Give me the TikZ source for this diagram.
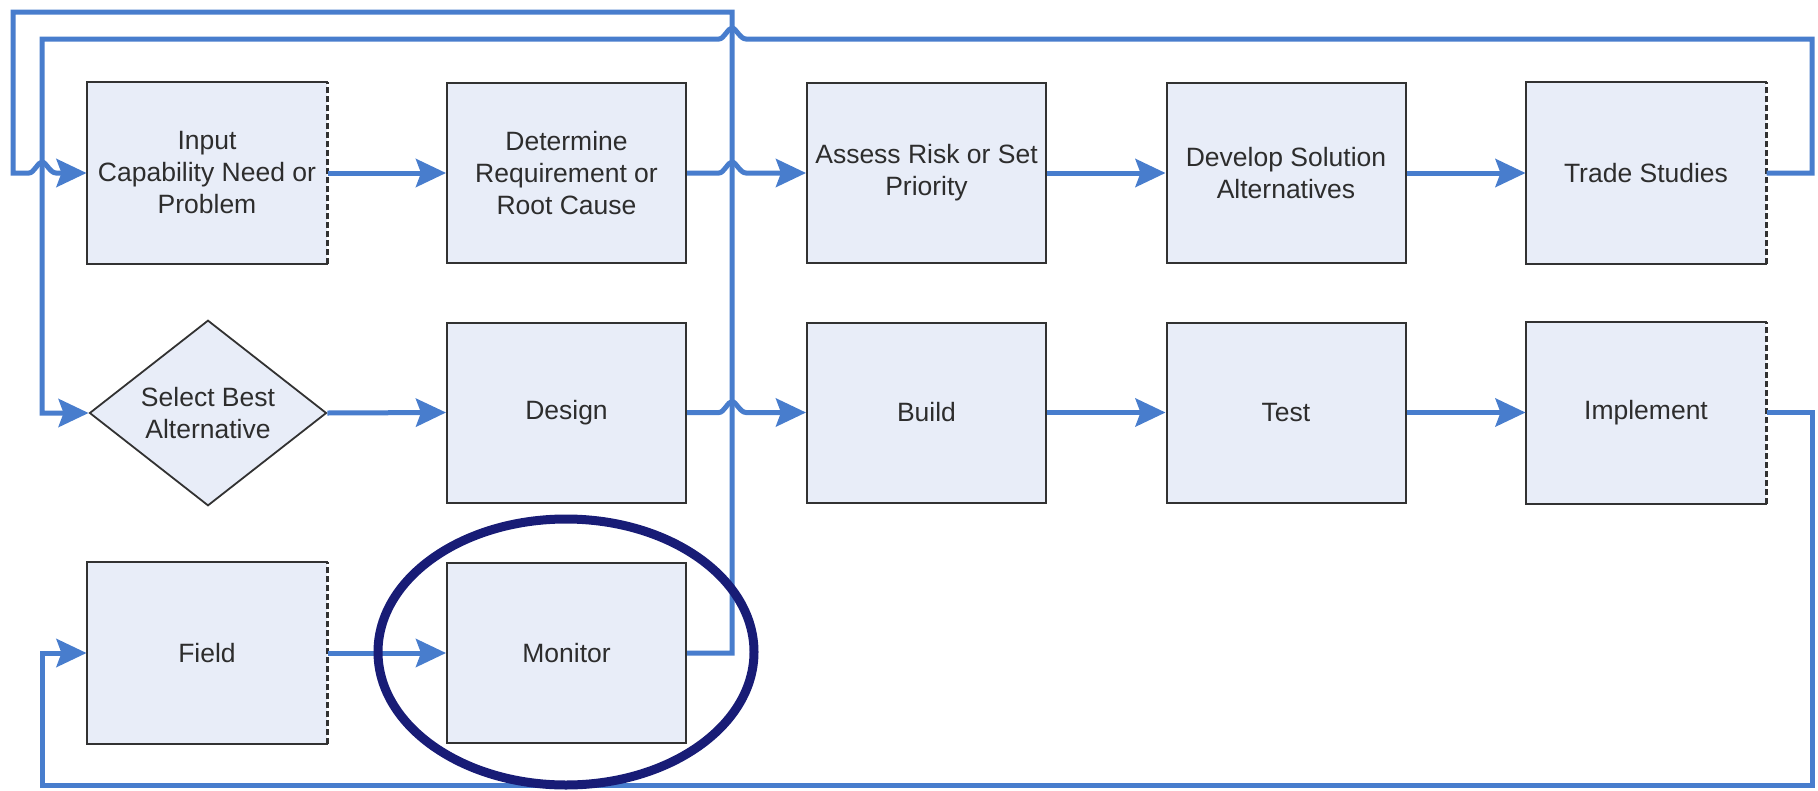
\documentclass[tikz,border=0pt]{standalone}
\usepackage{fontspec}
\setmainfont{Liberation Sans}
\usetikzlibrary{arrows.meta,shapes.geometric}
\definecolor{flowblue}{RGB}{72,125,205}
\definecolor{boxfill}{RGB}{232,237,248}
\definecolor{boxline}{RGB}{50,50,50}
\definecolor{ringnavy}{RGB}{24,28,118}
\definecolor{labelgrey}{RGB}{45,45,45}

\begin{document}
\begin{tikzpicture}[x=1pt,y=-1pt,
  font=\fontsize{26.5}{32}\selectfont,
  stepbox/.style={rectangle, fill=boxfill, draw=boxline, line width=2pt,
    minimum width=239pt, minimum height=180pt, align=center,
    text=labelgrey, inner sep=0pt},
  openbox/.style={stepbox, draw=none},
  choice/.style={diamond, fill=boxfill, draw=boxline, line width=1.8pt,
    minimum width=237pt, minimum height=178pt, align=center,
    text=labelgrey, inner sep=0pt},
  flow/.style={draw=flowblue, line width=5pt, line join=miter},
  flowarrow/.style={flow, -{Stealth[length=30pt,width=28pt,inset=5pt]}},
  % small bump where a line jumps over another one (left to right)
  hopr/.style args={#1/#2}{insert path={-- (#1-13,#2)
      .. controls (#1-8,#2) and (#1-4,#2-11) .. (#1,#2-11)
      .. controls (#1+4,#2-11) and (#1+8,#2) .. (#1+14,#2)}},
  % same bump, right to left
  hopl/.style args={#1/#2}{insert path={-- (#1+14,#2)
      .. controls (#1+8,#2) and (#1+4,#2-11) .. (#1,#2-11)
      .. controls (#1-4,#2-11) and (#1-8,#2) .. (#1-13,#2)}},
  ring/.style={ellipse, draw=ringnavy, line width=9pt, inner sep=0pt,
    minimum width=376pt, minimum height=266pt}
]
\useasboundingbox (0,0) rectangle (1818,790);

% ---- process steps ----
\node[openbox] (inp) at (207,173) {Input\\Capability Need or\\Problem};
\node[stepbox] (det) at (566.5,173) {Determine\\Requirement or\\Root Cause};
\node[stepbox] (ass) at (926.5,173) {Assess Risk or Set\\Priority};
\node[stepbox] (dev) at (1286,173) {Develop Solution\\Alternatives};
\node[openbox] (trd) at (1646,173) {Trade Studies};

\node[choice]  (sel) at (208,413) {Select Best\\Alternative};
\node[stepbox] (des) at (566.5,412.5) {Design};
\node[stepbox] (bld) at (926.5,412.5) {Build};
\node[stepbox] (tst) at (1286,412.5) {Test};
\node[openbox] (imp) at (1646,412.5) {Implement};

\node[openbox] (fld) at (207,653) {Field};
\node[stepbox] (mon) at (566.5,653) {Monitor};

% outlines with a broken right edge
\foreach \b in {inp,trd,imp,fld}{
  \draw[boxline, line width=2pt] (\b.north east) -- (\b.north west)
    -- (\b.south west) -- (\b.south east);
  \draw[boxline, line width=2.2pt, dash pattern=on 6pt off 3pt]
    (\b.south east) -- (\b.north east);
}

% ---- routing points ----
\coordinate (spineX) at (732,0);
\coordinate (outerL) at (13,12);
\coordinate (innerL) at (42,39);
\coordinate (rightX) at (1812,39);
\coordinate (floorY) at (0,785);

% ---- straight flow along the rows ----
\draw[flowarrow] (inp.east) -- (det.west);
\draw[flowarrow] (det.east) [hopr=732/173] -- (ass.west);
\draw[flowarrow] (ass.east) -- (dev.west);
\draw[flowarrow] (dev.east) -- (trd.west);

\draw[flowarrow] (sel.east) -- (des.west);
\draw[flowarrow] (des.east) [hopr=732/412.5] -- (bld.west);
\draw[flowarrow] (bld.east) -- (tst.west);
\draw[flowarrow] (tst.east) -- (imp.west);

\draw[flowarrow] (fld.east) -- (mon.west);

% ---- feedback loops ----
\draw[flowarrow] (mon.east) -- (mon.east -| spineX) -- (spineX |- outerL)
  -- (outerL) -- (outerL |- inp.west) [hopr=42/173] -- (inp.west);

\draw[flowarrow] (trd.east) -- (trd.east -| rightX) -- (rightX)
  [hopl=732/39] -- (innerL) -- (innerL |- sel.west) -- (sel.west);

\draw[flowarrow] (imp.east) -- (imp.east -| rightX) -- (rightX |- floorY)
  -- (innerL |- floorY) -- (innerL |- fld.west) -- (fld.west);

% ---- highlight ----
\node[ring] (focus) at (566,652) {};
\end{tikzpicture}
\end{document}
